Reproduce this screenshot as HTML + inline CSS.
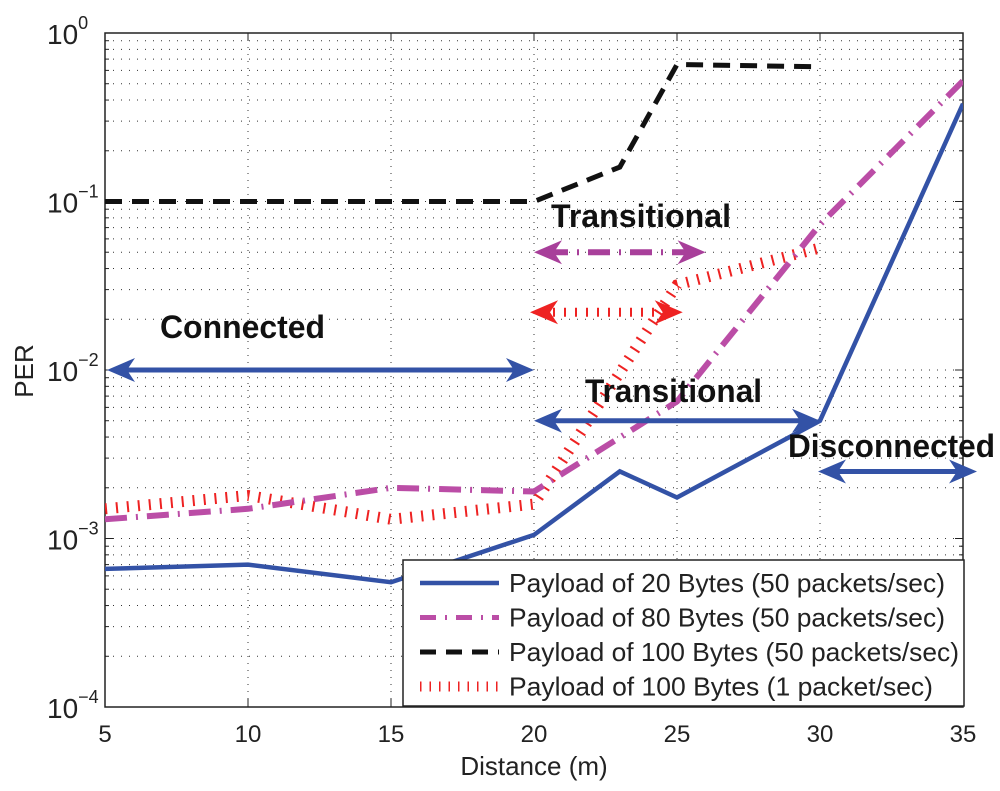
<!DOCTYPE html>
<html><head><meta charset="utf-8"><style>
html,body{margin:0;padding:0;background:#fff;}
svg{display:block;font-family:"Liberation Sans",Arial,sans-serif;}
</style></head><body>
<svg id="chart" width="1000" height="791" viewBox="0 0 1000 791" xmlns="http://www.w3.org/2000/svg"></svg>
<script>
const xTicks = [5,10,15,20,25,30,35];
const yExps = [0,-1,-2,-3,-4];
const s20x = [5,10,15,20,23,25,30,35];
const s20y = [6.6e-4,7e-4,5.5e-4,1.05e-3,2.5e-3,1.75e-3,5e-3,0.38];
const s80x = [5,10,15,20,25,30,35];
const s80y = [1.3e-3,1.5e-3,2e-3,1.9e-3,6.5e-3,0.073,0.52];
const s100x = [5,20,23,25,30];
const s100y = [0.1,0.1,0.16,0.65,0.63];
const s1x = [5,10,15,20,25,30];
const s1y = [1.5e-3,1.8e-3,1.3e-3,1.6e-3,0.032,0.053];
const legendLabels = ["Payload of 20 Bytes (50 packets/sec)","Payload of 80 Bytes (50 packets/sec)","Payload of 100 Bytes (50 packets/sec)","Payload of 100 Bytes (1 packet/sec)"];

const L=105,R=963,T=33,B=707;
const X=v=>L+(v-5)/30*(R-L);
const Y=v=>T+(0-Math.log10(v))/4*(B-T);
const svg=document.getElementById('chart');
const NS='http://www.w3.org/2000/svg';
function mk(tag,attrs,parent){const e=document.createElementNS(NS,tag);for(const k in attrs)e.setAttribute(k,attrs[k]);(parent||svg).appendChild(e);return e;}

const defs=mk('defs',{});
const cp=mk('clipPath',{id:'pc'},defs);
mk('rect',{x:L,y:T,width:R-L,height:B-T},cp);

const grid=mk('g',{});


xTicks.forEach(t=>{ if(t>5&&t<35) mk('line',{x1:X(t),x2:X(t),y1:T,y2:B,stroke:'#333','stroke-width':1,'stroke-dasharray':'1 6'},grid);});
for(let e=-4;e<0;e++){for(let m=1;m<10;m++){const v=m*Math.pow(10,e);if(m===1&&e===-4)continue;
 mk('line',{x1:L,x2:R,y1:Y(v),y2:Y(v),stroke:'#333','stroke-width':1,'stroke-dasharray':'1 7'},grid);}}

const ax=mk('rect',{x:L,y:T,width:R-L,height:B-T,fill:'none',stroke:'#222','stroke-width':1.5});


xTicks.forEach(t=>{
 mk('line',{x1:X(t),x2:X(t),y1:B,y2:B-8,stroke:'#222'});
 mk('line',{x1:X(t),x2:X(t),y1:T,y2:T+8,stroke:'#222'});
 const tl=mk('text',{x:X(t),y:B+35,'text-anchor':'middle','font-size':24,fill:'#222'});
 tl.textContent=t;
 
 
});
for(let e=-4;e<=0;e++){for(let m=1;m<10;m++){const v=m*Math.pow(10,e);if(e===0&&m>1)break;
 const len=m===1?8:4;
 mk('line',{x1:L,x2:L+len,y1:Y(v),y2:Y(v),stroke:'#222'});
 mk('line',{x1:R,x2:R-len,y1:Y(v),y2:Y(v),stroke:'#222'});}}
yExps.forEach(e=>{
 const t=mk('text',{x:47,y:Y(Math.pow(10,e))+11,'font-size':28,fill:'#222'});
 
 
 t.textContent='10';
 const s=mk('tspan',{dy:-15,'font-size':18},t); s.textContent=(e<0?'\u2212':'')+Math.abs(e);
});
const xl=mk('text',{x:534,y:775,'text-anchor':'middle','font-size':26,fill:'#222'});xl.textContent='Distance (m)';


const yl=mk('text',{x:33,y:371,'text-anchor':'middle','font-size':26,fill:'#222',transform:'rotate(-90 33 371)'});yl.textContent='PER';



const plot=mk('g',{'clip-path':'url(#pc)'});
function series(xs,ys,style,name){
 const d=xs.map((x,i)=>(i?'L':'M')+X(x).toFixed(1)+' '+Y(ys[i]).toFixed(1)).join(' ');
 const p=mk('path',Object.assign({d:d,fill:'none'},style),plot);
 
 
}
const stRed={stroke:'#ee2222','stroke-width':11,'stroke-dasharray':'2 9'};
const stMag={stroke:'#bb4da6','stroke-width':6,'stroke-dasharray':'22 9 2 9'};
const stBlk={stroke:'#111','stroke-width':5,'stroke-dasharray':'17 10'};
const stBlue={stroke:'#3352a6','stroke-width':4.5};
series(s1x,s1y,stRed,'series-100b-1pps');
series(s80x,s80y,stMag,'series-80b');
series(s100x,s100y,stBlk,'series-100b-50pps');
series(s20x,s20y,stBlue,'series-20b');

function darrow(x1,x2,y,color,w,dash,name){
 const g=mk('g',{},svg);
 
 
 const a={x1:x1+12,x2:x2-12,y1:y,y2:y,stroke:color,'stroke-width':w};
 if(dash)Object.assign(a,dash);
 mk('line',a,g);
 mk('path',{d:`M${x1} ${y} L${x1+28} ${y-12} L${x1+20} ${y} L${x1+28} ${y+12}Z`,fill:color},g);
 mk('path',{d:`M${x2} ${y} L${x2-28} ${y-12} L${x2-20} ${y} L${x2-28} ${y+12}Z`,fill:color},g);
}
darrow(X(5)+2,X(20),Y(0.01),'#3352a6',5,null,'connected-arrow');
darrow(X(20),X(30),Y(0.005),'#3352a6',5,null,'transitional-20b-arrow');
darrow(X(30)-2,X(35)+14,Y(0.0025),'#3352a6',5,null,'disconnected-arrow');
darrow(X(20),X(26),Y(0.05),'#a83f9a',6,{'stroke-dasharray':'22 9 2 9'},'transitional-80b-arrow');
darrow(X(20)-4,X(25.2),Y(0.022),'#ee2222',9,{'stroke-dasharray':'2 9'},'transitional-100b-arrow');

function lbl(x,y,t,w,name){const e=mk('text',{x:x,y:y,'font-size':32,'font-weight':'bold',fill:'#111',textLength:w,lengthAdjust:'spacingAndGlyphs'});e.textContent=t;
 
 }
lbl(160,338,'Connected',165,'connected-label');
lbl(551,227,'Transitional',180,'transitional-top-label');
lbl(585,402,'Transitional',177,'transitional-mid-label');
lbl(788,457,'Disconnected',207,'disconnected-label');

const lg=mk('g',{});


mk('rect',{x:403,y:560,width:561,height:146,fill:'#fff',stroke:'#222','stroke-width':1.5},lg);
const lst=[stBlue,{stroke:'#bb4da6','stroke-width':5,'stroke-dasharray':'16 9 2 9'},{stroke:'#111','stroke-width':5,'stroke-dasharray':'16 10'},{stroke:'#ee2222','stroke-width':10,'stroke-dasharray':'1.5 8'}];
const legW=[436,436,450,424];
legendLabels.forEach((t,i)=>{
 const y=583+i*34.5;
 const ent=mk('g',{},lg);
 
 
 mk('line',Object.assign({x1:420,x2:499,y1:y,y2:y},lst[i]),ent);
 const tx=mk('text',{x:509,y:y+9,'font-size':26,fill:'#222',textLength:legW[i],lengthAdjust:'spacingAndGlyphs'},ent);tx.textContent=t;
});
</script>
</body></html>
